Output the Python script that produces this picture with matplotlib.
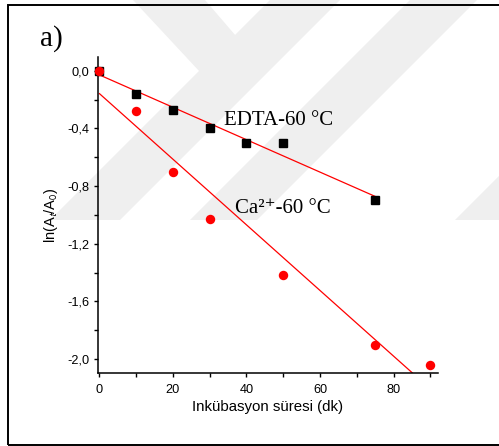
import numpy as np
import matplotlib
matplotlib.use("Agg")
import matplotlib.pyplot as plt
from matplotlib.patches import Rectangle, Polygon
from matplotlib.ticker import MultipleLocator, FuncFormatter

plt.rcParams['font.family'] = ['Liberation Sans', 'DejaVu Sans']
plt.rcParams['mathtext.fontset'] = 'stix'

# data
time_edta = [0, 10, 20, 30, 40, 50, 75]
ln_edta = [0.0, -0.16, -0.27, -0.40, -0.50, -0.50, -0.90]

time_ca = [0, 10, 20, 30, 50, 75, 90]
ln_ca = [0.0, -0.28, -0.70, -1.03, -1.42, -1.90, -2.04]

x_ticks = [0, 20, 40, 60, 80]
y_ticks = [0.0, -0.4, -0.8, -1.2, -1.6, -2.0]

W, H = 499, 446
fig = plt.figure(figsize=(W / 100, H / 100), dpi=100)

# faint watermark bands in the background (pixel coords, y from top)
bands = [
    [(133, 0), (205, 0), (267, 72), (200, 72)],
    [(50, 220), (120, 220), (340, 0), (270, 0)],
    [(190, 220), (257, 220), (477, 0), (410, 0)],
    [(455, 220), (522, 220), (742, 0), (675, 0)],
]
for b in bands:
    pts = [(x / W, 1 - y / H) for x, y in b]
    fig.patches.append(Polygon(pts, closed=True, transform=fig.transFigure,
                               fc='#efefef', ec='none', zorder=-1))

ax = fig.add_axes([0.1964, 0.1643, 0.877 - 0.1964, 0.872 - 0.1643])
ax.patch.set_visible(False)

# linear fits
p_edta = np.polyfit(time_edta, ln_edta, 1)
p_ca = np.polyfit(time_ca, ln_ca, 1)
xf_edta = np.array([0, 75])
xf_ca = np.array([0, 90])
ax.plot(xf_edta, np.polyval(p_edta, xf_edta), color='red', lw=0.9, zorder=2)
ax.plot(xf_ca, np.polyval(p_ca, xf_ca), color='red', lw=0.9, zorder=2)

ax.plot(time_edta, ln_edta, 's', color='black', ms=5.8, zorder=3, clip_on=False)
ax.plot(time_ca, ln_ca, 'o', color='red', ms=6.8, mec='none', zorder=4, clip_on=False)

ax.set_xlim(-0.4, 92)
ax.set_ylim(-2.095, 0.095)

ax.xaxis.set_minor_locator(MultipleLocator(10))
ax.yaxis.set_minor_locator(MultipleLocator(0.2))
ax.set_xticks(x_ticks)
ax.set_yticks(y_ticks)
ax.yaxis.set_major_formatter(FuncFormatter(lambda v, p: f"{v:.1f}".replace(".", ",").replace("-0,0", "0,0")))

for s in ['top', 'right']:
    ax.spines[s].set_visible(False)
for s in ['left', 'bottom']:
    ax.spines[s].set_linewidth(1.1)
ax.tick_params(which='major', direction='out', length=3.2, width=1.0, labelsize=9.2, pad=3)
ax.tick_params(which='minor', direction='out', length=3.2, width=1.0)
ax.tick_params(axis='x', pad=5)

ax.set_xlabel("Inkübasyon süresi (dk)", fontsize=10.8, labelpad=3)
ax.set_ylabel(r"ln(A$_\mathsf{t}$/A$_\mathsf{0}$)", fontsize=10.5, labelpad=5)

serif = ['Liberation Serif', 'DejaVu Serif']
ax.text(33.9, -0.373, "EDTA-60 °C", family=serif, fontsize=15, va='baseline')
ax.text(37.0, -0.985, "Ca²⁺-60 °C", family=serif, fontsize=15, va='baseline')
fig.text(40 / W, 1 - 46 / H, "a)", family=serif, fontsize=21, va='baseline')

# outer frame
fig.patches.append(Rectangle((8 / W, 1 / H), 1.2, 1 - 6 / H, transform=fig.transFigure,
                             fill=False, lw=1.4, ec='black'))

fig.savefig("out.png", dpi=100)
